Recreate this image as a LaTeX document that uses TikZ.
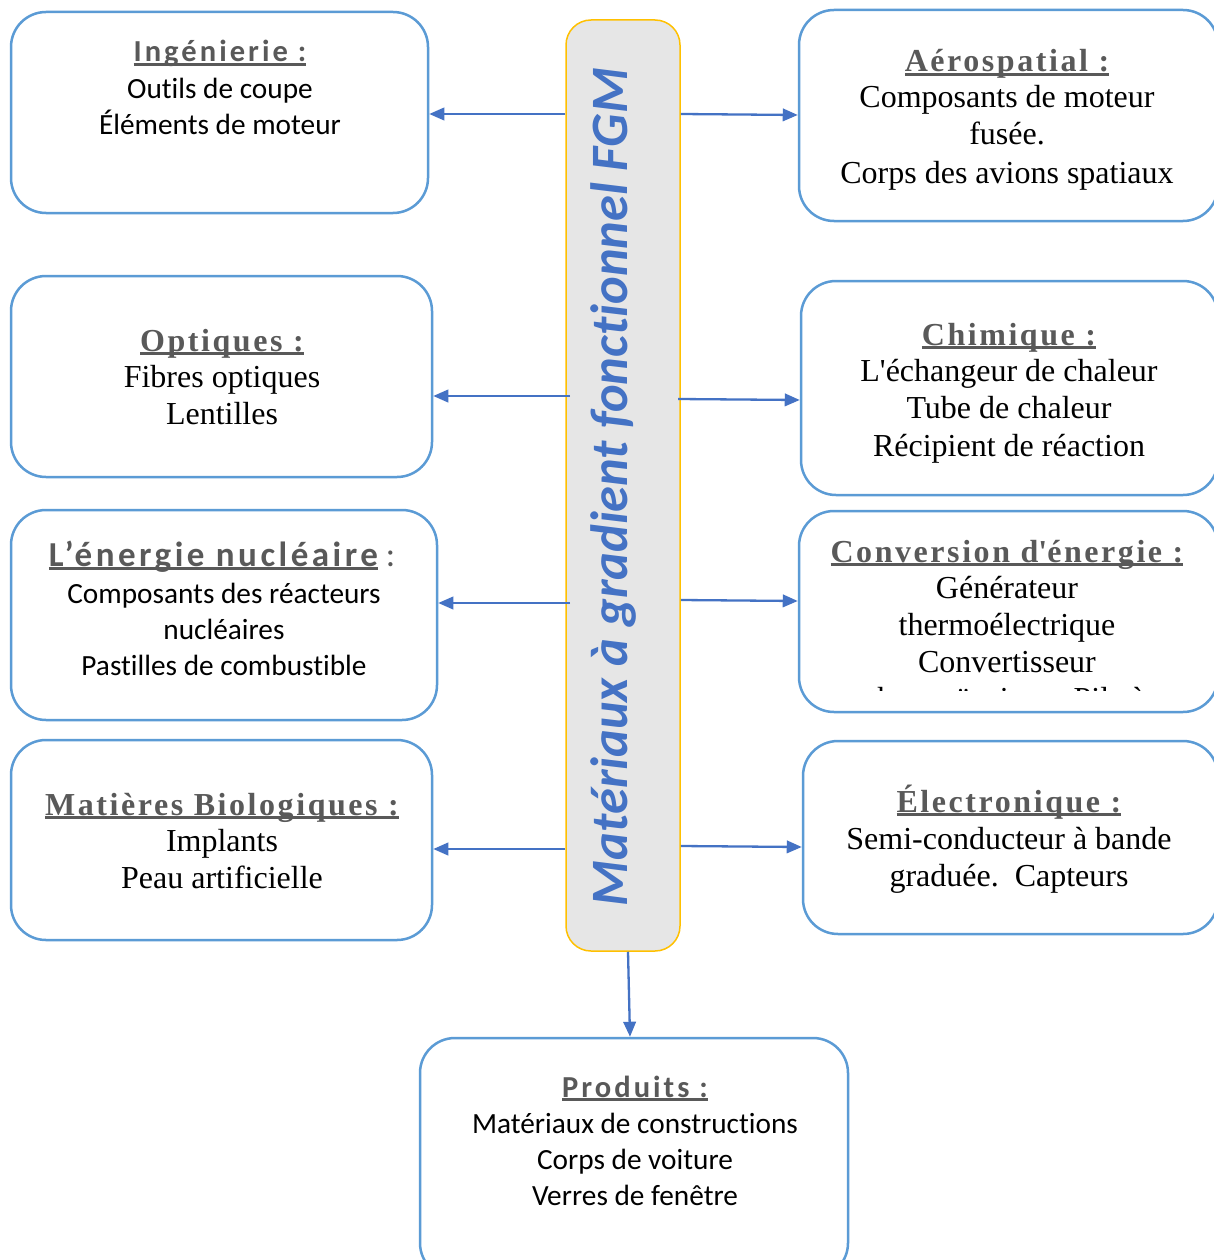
\documentclass[tikz,border=0pt]{standalone}
\usepackage{fontspec}
\setmainfont{Liberation Serif}
\newfontfamily\calf[Ligatures={NoCommon}]{Carlito}
\newfontfamily\calhd[LetterSpace=10,Ligatures={NoCommon}]{Carlito}
\newfontfamily\timhd[LetterSpace=8]{Liberation Serif}
\usetikzlibrary{arrows.meta}
\definecolor{boxblue}{HTML}{5B9BD5}
\definecolor{arrblue}{HTML}{4472C4}
\definecolor{hdgray}{HTML}{595959}
\definecolor{bargray}{HTML}{E6E6E6}
\definecolor{bargold}{HTML}{FFC000}
\newcommand\hul[1]{\setbox0\hbox{#1}\rlap{\color{hdgray}\rule[-4pt]{\wd0}{2.8pt}}\box0}
\tikzset{
  box/.style={draw=boxblue, line width=2.5pt, rounded corners=35pt, rectangle, inner sep=0pt},
  tl/.style={anchor=base, inner sep=0pt},
  calt/.style={tl, font=\calf\fontsize{29.3}{34}\selectfont},
  timt/.style={tl, font=\fontsize{32}{38}\selectfont},
  hdcal/.style={tl, font=\calhd\bfseries\fontsize{30.5}{36}\selectfont, text=hdgray},
  hdtim/.style={tl, font=\timhd\bfseries\fontsize{32}{38}\selectfont, text=hdgray},
  arr/.style={draw=arrblue, line width=2.3pt, -{Triangle[length=15pt,width=12.5pt]}}
}
\begin{document}
\begin{tikzpicture}[x=1pt,y=-1pt]
\clip (0,0) rectangle (1214,1260);
\fill[white] (0,0) rectangle (1214,1260);
% central bar
\node[draw=bargold, line width=1.5pt, fill=bargray, rounded corners=25pt, minimum width=114pt, minimum height=931pt, inner sep=0pt] (bar) at (623,485.5) {};
\node[rotate=90, inner sep=0pt, text=arrblue, font=\calf\bfseries\itshape\fontsize{52.5}{56}\selectfont] (title) at (613,487) {Matériaux à gradient fonctionnel FGM};
% boxes
\node[box, minimum width=417pt, minimum height=201pt] (ing) at (219.5,112.5) {};
\node[box, minimum width=419pt, minimum height=211pt] (aero) at (1008.5,115.5) {};
\node[box, minimum width=421pt, minimum height=201pt] (opt) at (221.5,376.5) {};
\node[box, minimum width=417pt, minimum height=214pt] (chim) at (1009.5,388) {};
\node[box, minimum width=426pt, minimum height=210pt] (nuc) at (224,615) {};
\node[box, minimum width=419pt, minimum height=201pt] (conv) at (1008.5,611.5) {};
\node[box, minimum width=421pt, minimum height=200pt] (bio) at (221.5,840) {};
\node[box, minimum width=415pt, minimum height=193pt] (elec) at (1010.5,837.5) {};
\node[box, minimum width=428pt, minimum height=240pt] (prod) at (634,1158) {};
% Ingenierie
\node[hdcal] (ingh) at (220,62) {\hul{Ingénierie :}};
\node[calt] (ing1) at (220,99) {Outils de coupe};
\node[calt] (ing2) at (220,135) {Éléments de moteur};
% Aerospatial
\node[hdtim] (aeroh) at (1007,72) {\hul{Aérospatial :}};
\node[timt] (aero1) at (1007,108) {Composants de moteur};
\node[timt] (aero2) at (1007,145) {fusée.};
\node[timt] (aero3) at (1007,183) {Corps des avions spatiaux};
% Optiques
\node[hdtim] (opth) at (222,351) {\hul{Optiques :}};
\node[timt] (opt1) at (222,387) {Fibres optiques};
\node[timt] (opt2) at (222,424) {Lentilles};
% Chimique
\node[hdtim] (chimh) at (1009,345) {\hul{Chimique :}};
\node[timt] (chim1) at (1009,381) {L\textquotesingle échangeur de chaleur};
\node[timt] (chim2) at (1009,418) {Tube de chaleur};
\node[timt] (chim3) at (1009,456) {Récipient de réaction};
% Nucleaire
\node[tl, text=hdgray, font=\calf\fontsize{35}{40}\selectfont] (nuch) at (222,566) {{\calhd\bfseries\hul{L’énergie nucléaire}} :};
\node[calt] (nuc1) at (224,603) {Composants des réacteurs};
\node[calt] (nuc2) at (224,639) {nucléaires};
\node[calt] (nuc3) at (224,675) {Pastilles de combustible};
% Conversion
\node[hdtim] (convh) at (1007,562) {\hul{Conversion d\textquotesingle énergie :}};
\node[timt] (conv1) at (1007,598) {Générateur};
\node[timt] (conv2) at (1007,635) {thermoélectrique};
\node[timt] (conv3) at (1007,672) {Convertisseur};
\begin{scope}
\clip (800,680) rectangle (1214,690);
\node[timt] (conv4) at (1007,709) {thermoïonique. Pile à};
\end{scope}
% Bio
\node[hdtim] (bioh) at (222,815) {\hul{Matières Biologiques :}};
\node[timt] (bio1) at (222,851) {Implants};
\node[timt] (bio2) at (222,888) {Peau artificielle};
% Electronique
\node[hdtim] (elech) at (1009,812) {\hul{Électronique :}};
\node[timt] (elec1) at (1009,849) {Semi-conducteur à bande};
\node[timt] (elec2) at (1009,886) {graduée.\ \ Capteurs};
% Produits
\node[hdcal] (prodh) at (635,1097) {\hul{Produits :}};
\node[calt] (prod1) at (635,1133) {Matériaux de constructions};
\node[calt] (prod2) at (635,1169) {Corps de voiture};
\node[calt] (prod3) at (635,1205) {Verres de fenêtre};
% arrows
\draw[arr] (bar.west |- 0,114) -- (ing.east |- 0,114);
\draw[arr] (bar.east |- 0,114) -- (aero.west |- 0,115);
\draw[arr] (570,396) -- (opt.east |- 0,396);
\draw[arr] (678,399) -- (chim.west |- 0,400);
\draw[arr] (570,603) -- (nuc.east |- 0,603);
\draw[arr] (bar.east |- 0,600) -- (conv.west |- 0,601);
\draw[arr] (bar.west |- 0,849) -- (bio.east |- 0,849);
\draw[arr] (bar.east |- 0,846) -- (elec.west |- 0,847);
\draw[arr] (bar.south -| 628,0) -- (prod.north -| 630,0);
\end{tikzpicture}
\end{document}
